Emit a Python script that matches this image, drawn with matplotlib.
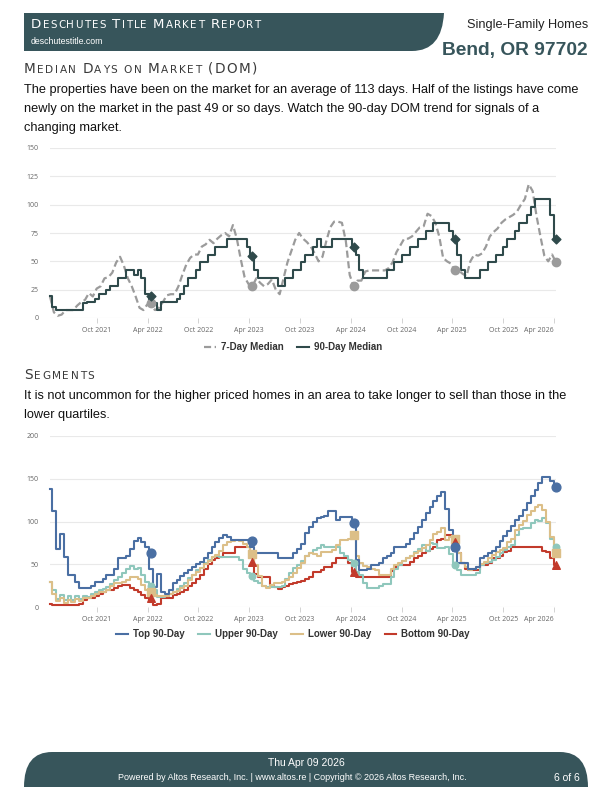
import matplotlib
matplotlib.use('Agg')
import matplotlib.pyplot as plt
import numpy as np
import pandas as pd
from matplotlib.patches import PathPatch
from matplotlib.path import Path
from matplotlib.lines import Line2D

# ---------------- data (biweekly, ending 2026-04-09) ----------------
dates = pd.date_range(end='2026-04-09', periods=131, freq='14D')

dom_7day = [19, 5, 2, 3, 7, 7, 7, 11, 14, 16, 22, 19, 26, 28, 35, 36, 40, 49, 54, 46,
            35, 28, 19, 9, 7, 12, 10, 7, 9, 14, 20, 21, 21, 28, 38, 47, 53, 56, 56, 63,
            65, 69, 66, 70, 73, 75, 72, 82, 70, 52, 36, 30, 28, 35, 31, 28, 30, 34, 25, 21,
            35, 49, 59, 69, 75, 70, 67, 63, 57, 50, 54, 68, 80, 85, 85, 84, 68, 38, 28, 33,
            33, 41, 42, 42, 42, 42, 42, 44, 49, 58, 64, 70, 70, 72, 76, 80, 81, 92, 90, 84,
            72, 53, 50, 48, 42, 42, 39, 37, 50, 56, 55, 57, 63, 72, 76, 79, 84, 87, 89, 91,
            94, 100, 105, 118, 112, 90, 72, 55, 50, 56, 49]
dom_90day = [19, 10, 7, 7, 7, 7, 7, 7, 7, 13, 14, 14, 17, 21, 21, 25, 28, 28, 35, 35,
             42, 42, 38, 42, 35, 21, 16, 13, 7, 14, 14, 14, 14, 17, 21, 28, 35, 35, 42, 49,
             49, 56, 56, 63, 63, 63, 70, 70, 70, 70, 70, 63, 55, 42, 35, 35, 35, 35, 35, 28,
             28, 35, 35, 42, 42, 49, 56, 56, 63, 70, 63, 63, 63, 70, 70, 70, 70, 70, 63, 56,
             42, 35, 35, 35, 35, 35, 35, 42, 42, 49, 49, 56, 56, 63, 63, 70, 70, 77, 77, 84,
             84, 84, 84, 77, 70, 56, 42, 35, 35, 35, 35, 42, 42, 49, 49, 56, 56, 63, 70, 70,
             77, 84, 84, 91, 98, 105, 105, 105, 105, 91, 70]

top_90 = [138, 112, 68, 85, 59, 37, 37, 29, 22, 22, 22, 24, 29, 29, 33, 38, 38, 44, 57, 57,
          60, 68, 77, 81, 76, 70, 45, 23, 39, 17, 15, 20, 28, 31, 36, 40, 43, 47, 50, 53,
          57, 63, 70, 76, 81, 84, 82, 78, 78, 78, 78, 78, 70, 63, 63, 63, 63, 63, 63, 57,
          57, 57, 57, 63, 68, 74, 86, 94, 100, 104, 105, 107, 112, 112, 102, 105, 105, 105, 95, 55,
          43, 43, 45, 49, 49, 52, 57, 60, 63, 70, 70, 70, 74, 80, 87, 94, 102, 110, 117, 124,
          130, 134, 115, 90, 66, 52, 51, 51, 45, 45, 47, 57, 60, 63, 66, 70, 77, 83, 89, 95,
          102, 106, 114, 122, 130, 137, 145, 152, 152, 147, 140]
upper_90 = [29, 20, 9, 14, 8, 13, 8, 13, 9, 13, 12, 15, 17, 20, 21, 23, 27, 31, 35, 40,
            44, 48, 45, 46, 37, 29, 26, 20, 12, 12, 13, 15, 17, 21, 25, 28, 34, 38, 43, 46,
            51, 55, 58, 60, 59, 59, 58, 58, 58, 55, 45, 40, 35, 30, 28, 24, 23, 23, 23, 23,
            25, 33, 40, 46, 49, 54, 60, 63, 67, 69, 72, 70, 70, 70, 70, 63, 60, 55, 48, 41,
            37, 28, 22, 22, 22, 24, 27, 27, 35, 44, 49, 54, 57, 60, 64, 68, 72, 66, 75, 74,
            69, 69, 70, 62, 49, 43, 38, 37, 37, 37, 40, 49, 51, 53, 55, 59, 63, 67, 70, 72,
            84, 91, 92, 92, 98, 102, 101, 104, 98, 80, 70]
lower_90 = [29, 15, 7, 10, 5, 8, 6, 9, 7, 10, 11, 13, 15, 17, 18, 20, 24, 28, 28, 29,
            32, 35, 35, 33, 26, 20, 16, 14, 13, 13, 13, 15, 17, 19, 22, 25, 32, 37, 41, 46,
            50, 54, 58, 61, 65, 72, 76, 77, 78, 77, 74, 70, 62, 49, 36, 25, 22, 26, 28, 28,
            29, 32, 35, 40, 46, 52, 60, 63, 62, 60, 64, 64, 64, 67, 72, 78, 78, 80, 84, 60,
            51, 48, 47, 44, 43, 38, 37, 37, 44, 49, 51, 54, 57, 60, 63, 66, 69, 73, 78, 85,
            88, 92, 78, 82, 74, 63, 52, 47, 43, 45, 47, 50, 53, 57, 61, 64, 67, 69, 76, 80,
            90, 96, 101, 108, 112, 117, 119, 114, 100, 82, 63]
bottom_90 = [4, 2, 2, 2, 2, 2, 2, 2, 3, 8, 10, 10, 13, 15, 17, 20, 20, 22, 25, 26,
             26, 22, 20, 18, 14, 11, 6, 2, 3, 10, 10, 10, 14, 15, 17, 20, 25, 28, 33, 37,
             45, 50, 55, 57, 58, 63, 63, 63, 70, 70, 70, 70, 62, 39, 35, 35, 35, 26, 23, 21,
             23, 25, 27, 28, 29, 30, 33, 35, 41, 41, 43, 47, 47, 51, 57, 57, 57, 52, 41, 35,
             35, 35, 35, 35, 35, 35, 35, 35, 42, 47, 49, 49, 49, 53, 57, 60, 63, 65, 68, 70,
             78, 80, 84, 84, 72, 63, 51, 45, 43, 43, 43, 49, 49, 52, 57, 57, 60, 64, 66, 70,
             70, 70, 70, 70, 70, 70, 70, 66, 64, 57, 49]

# yearly markers (Apr 2022 .. Apr 2026)
mark_idx = [26, 52, 78, 104, 130]
mk_7day = [13, 28, 28, 42, 49]
mk_90day = [19, 55, 63, 70, 70]
mk_top = [63, 77, 98, 70, 140]
mk_upper = [24, 36, 51, 49, 70]
mk_lower = [18, 62, 84, 80, 63]
mk_bottom = [10, 53, 41, 76, 49]

xtick_dates = pd.to_datetime(['2021-10-01', '2022-04-01', '2022-10-01', '2023-04-01', '2023-10-01',
                              '2024-04-01', '2024-10-01', '2025-04-01', '2025-10-01', '2026-04-01'])
xtick_labels = [d.strftime('%b %Y') for d in xtick_dates]

# ---------------- figure ----------------
W, H = 612, 792
fig = plt.figure(figsize=(6.12, 7.92), dpi=100)
bg = fig.add_axes([0, 0, 1, 1])
bg.set_xlim(0, W)
bg.set_ylim(H, 0)
bg.axis('off')
renderer = fig.canvas.get_renderer()

BAND = '#37555b'
BODY = 'Liberation Sans'

# header band
hv = [(24, 13), (444, 13), (442, 51), (412, 51), (24, 51), (24, 13)]
hc = [Path.MOVETO, Path.LINETO, Path.CURVE3, Path.CURVE3, Path.LINETO, Path.CLOSEPOLY]
bg.add_patch(PathPatch(Path(hv, hc), facecolor=BAND, edgecolor='none'))

# footer band
fv = [(24, 787), (24, 752), (52, 752), (560, 752), (588, 752), (588, 787), (24, 787)]
fc = [Path.MOVETO, Path.CURVE3, Path.CURVE3, Path.LINETO, Path.CURVE3, Path.CURVE3, Path.CLOSEPOLY]
bg.add_patch(PathPatch(Path(fv, fc), facecolor=BAND, edgecolor='none'))


def smallcaps(x, y, s, big, small, color, spacing=0.6, family='DejaVu Sans'):
    cx = x
    for ch in s:
        if ch == ' ':
            cx += big * 100 / 72 * 0.36
            continue
        if ch.islower():
            t = bg.text(cx, y, ch.upper(), fontsize=small, color=color, family=family,
                        va='baseline', ha='left')
        else:
            t = bg.text(cx, y, ch, fontsize=big, color=color, family=family,
                        va='baseline', ha='left')
        bb = t.get_window_extent(renderer)
        cx += bb.width + spacing


smallcaps(31, 28, 'Deschutes Title Market Report', 9.6, 7.4, 'white', spacing=1.3)
bg.text(31, 44, 'deschutestitle.com', fontsize=6.3, color='white', family=BODY, va='baseline')
bg.text(588, 28, 'Single-Family Homes', fontsize=9.2, color='#222222', family=BODY,
        ha='right', va='baseline')
bg.text(588, 55, 'Bend, OR 97702', fontsize=13.8, color=BAND, family=BODY, weight='bold',
        ha='right', va='baseline')

smallcaps(24, 73, 'Median Days on Market (DOM)', 9.8, 7.6, '#3a3a3a', spacing=1.5)
para1 = ['The properties have been on the market for an average of 113 days. Half of the listings have come',
         'newly on the market in the past 49 or so days. Watch the 90-day DOM trend for signals of a',
         'changing market.']
for k, line in enumerate(para1):
    bg.text(24, 93 + k * 19, line, fontsize=9.2, color='#111111', family=BODY, va='baseline')

smallcaps(24, 379, 'Segments', 9.8, 7.6, '#3a3a3a', spacing=1.5)
para2 = ['It is not uncommon for the higher priced homes in an area to take longer to sell than those in the',
         'lower quartiles.']
for k, line in enumerate(para2):
    bg.text(24, 399 + k * 19, line, fontsize=9.2, color='#111111', family=BODY, va='baseline')

bg.text(306, 763, 'Thu Apr 09 2026', fontsize=7.5, color='white', family=BODY, ha='center', va='center')
bg.text(292, 778, 'Powered by Altos Research, Inc. | www.altos.re | Copyright \u00a9 2026 Altos Research, Inc.',
        fontsize=6.5, color='white', family=BODY, ha='center', va='center')
bg.text(580, 778, '6 of 6', fontsize=7.5, color='white', family=BODY, ha='right', va='center')


def px_axes(x0, x1, ytop, ybot):
    return fig.add_axes([x0 / W, 1 - ybot / H, (x1 - x0) / W, (ybot - ytop) / H])


def style_axes(ax, yticks):
    ax.set_xlim(dates[0], dates[-1])
    ax.set_ylim(yticks[0], yticks[-1])
    ax.set_yticks(yticks)
    ax.set_yticklabels([str(v) for v in yticks])
    ax.set_xticks(xtick_dates)
    ax.set_xticklabels(xtick_labels)
    for s in ax.spines.values():
        s.set_visible(False)
    ax.grid(axis='y', color='#e9e9e9', lw=0.8)
    ax.set_axisbelow(True)
    ax.tick_params(axis='y', length=0, labelsize=5, labelcolor='#666666', pad=8)
    ax.tick_params(axis='x', length=3.5, width=0.6, color='#cccccc', labelsize=5,
                   labelcolor='#666666', pad=3)
    for lab in ax.get_xticklabels():
        lab.set_family('Open Sans')
    for lab in ax.get_yticklabels():
        lab.set_family('Open Sans')
    ax.get_xticklabels()[-1].set_ha('right')
    ax.patch.set_alpha(0)


mdates_ = dates[mark_idx]

# ---------------- chart 1 ----------------
ax1 = px_axes(50, 556, 148, 318)
style_axes(ax1, [0, 25, 50, 75, 100, 125, 150])
C7, C90 = '#9b9b9b', '#2f4a4b'
ax1.plot(dates, dom_7day, color=C7, lw=1.6, dashes=(3.2, 1.6), clip_on=False)
ax1.plot(dates, dom_90day, color=C90, lw=1.5, drawstyle='steps-mid', clip_on=False)
ax1.scatter(mdates_, mk_7day, s=36, color=C7, marker='o', zorder=5, clip_on=False)
ax1.scatter(mdates_, mk_90day, s=20, color=C90, marker='D', zorder=6, clip_on=False)
h1 = [Line2D([], [], color=C7, lw=1.6, dashes=(3.2, 1.6)), Line2D([], [], color=C90, lw=1.5)]
fig.legend(h1, ['7-Day Median', '90-Day Median'], loc='center', bbox_to_anchor=(293 / W, 1 - 347 / H),
           ncol=2, frameon=False, handlelength=1.2, handletextpad=0.5, columnspacing=1.4,
           prop={'family': BODY, 'weight': 'bold', 'size': 7}, labelcolor='#333333')

# ---------------- chart 2 ----------------
ax2 = px_axes(50, 556, 436, 607)
style_axes(ax2, [0, 50, 100, 150, 200])
CT, CU, CL, CB = '#4a6fa3', '#8fc7bc', '#dcbf88', '#c23a2b'
ax2.plot(dates, bottom_90, color=CB, lw=1.5, drawstyle='steps-mid', clip_on=False, zorder=3)
ax2.plot(dates, lower_90, color=CL, lw=1.5, drawstyle='steps-mid', clip_on=False, zorder=4)
ax2.plot(dates, upper_90, color=CU, lw=1.5, drawstyle='steps-mid', clip_on=False, zorder=3.5)
ax2.plot(dates, top_90, color=CT, lw=1.5, drawstyle='steps-mid', clip_on=False, zorder=5)
ax2.scatter(mdates_, mk_upper, s=22, color=CU, marker='o', zorder=6, clip_on=False)
ax2.scatter(mdates_, mk_lower, s=30, color=CL, marker='s', zorder=6, clip_on=False)
ax2.scatter(mdates_, mk_bottom, s=30, color=CB, marker='^', zorder=6, clip_on=False)
ax2.scatter(mdates_, mk_top, s=40, color=CT, marker='o', zorder=7, clip_on=False)
h2 = [Line2D([], [], color=c, lw=1.5) for c in (CT, CU, CL, CB)]
fig.legend(h2, ['Top 90-Day', 'Upper 90-Day', 'Lower 90-Day', 'Bottom 90-Day'], loc='center',
           bbox_to_anchor=(293 / W, 1 - 634 / H), ncol=4, frameon=False, handlelength=1.2,
           handletextpad=0.5, columnspacing=1.4,
           prop={'family': BODY, 'weight': 'bold', 'size': 7}, labelcolor='#333333')

fig.savefig('out.png', dpi=100)
